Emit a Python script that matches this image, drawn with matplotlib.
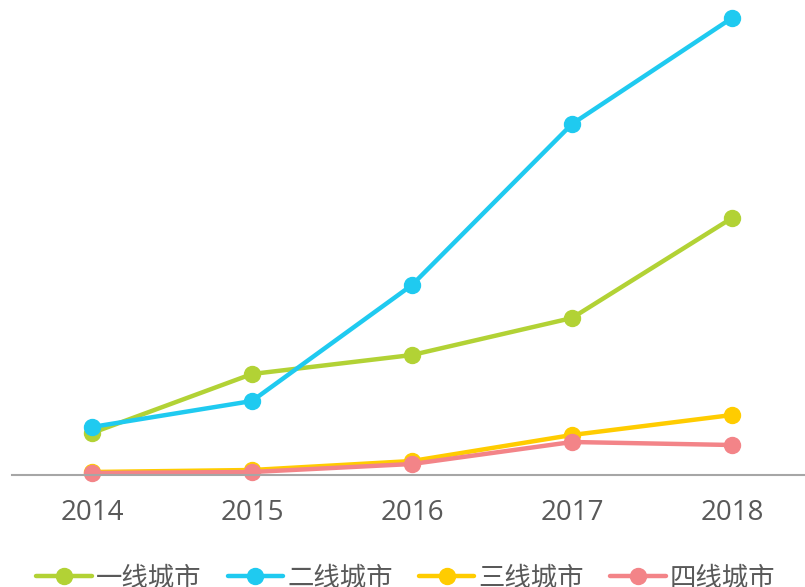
import matplotlib
matplotlib.use("Agg")
import matplotlib.pyplot as plt

plt.rcParams['font.family'] = ['Noto Sans CJK SC', 'DejaVu Sans']

years = ['2014', '2015', '2016', '2017', '2018']
tier1 = [42, 101, 120, 157, 257]
tier2 = [48, 74, 190, 351, 457]
tier3 = [3, 5, 14, 40, 60]
tier4 = [2, 3, 11, 33, 30]

series = [
    ('一线城市', tier1, '#B2D235'),
    ('二线城市', tier2, '#1FCAF0'),
    ('三线城市', tier3, '#FFCC00'),
    ('四线城市', tier4, '#F38488'),
]

W, H = 805, 587
fig = plt.figure(figsize=(W / 100, H / 100), dpi=100)
ax = fig.add_axes([12 / W, (H - 475) / H, (W - 12) / W, 475 / H])

x = list(range(len(years)))
for name, vals, col in series:
    ax.plot(x, vals, color=col, lw=3.2, marker='o', ms=11.5, label=name,
            solid_capstyle='round', clip_on=False)

ax.set_xlim(-0.5, 4.456)
ax.set_ylim(0, 475)
ax.set_xticks(x)
ax.set_xticklabels(years, fontsize=20, color='#595959',
                   family=['Open Sans', 'DejaVu Sans'])
ax.tick_params(axis='x', length=0, pad=17)
ax.set_yticks([])
for s in ['top', 'right', 'left']:
    ax.spines[s].set_visible(False)
ax.spines['bottom'].set_color('#A6A6A6')
ax.spines['bottom'].set_linewidth(1.5)

leg = fig.legend(loc='center', bbox_to_anchor=(0.504, 0.015), ncol=4,
                 frameon=False, fontsize=19, handlelength=2.1,
                 handletextpad=0.15, columnspacing=1.0, borderpad=0)
for t in leg.get_texts():
    t.set_color('#595959')

fig.savefig('out.png', dpi=100)
